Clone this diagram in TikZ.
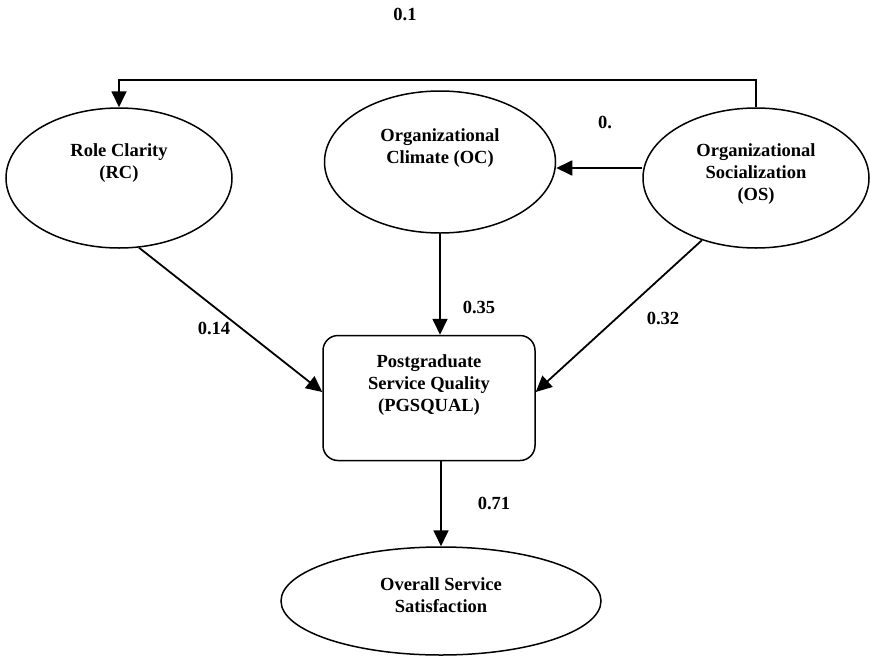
\documentclass[tikz,border=0pt]{standalone}
\usepackage{fontspec}
\setmainfont{Liberation Serif}
\usetikzlibrary{positioning,shapes.geometric,arrows.meta}
\tikzstyle{pathModel} = [x = 1pt, y = -1pt]
\tikzstyle{latentStyle} = [draw, ellipse, line width=1.5pt, inner sep=0pt]
\tikzstyle{constructStyle} = [draw, rectangle, rounded corners = 15pt, line width=1.5pt, inner sep=0pt]
\tikzstyle{nodeText} = [align=center, font=\fontsize{18.5}{22}\selectfont\bfseries]
\tikzstyle{coefText} = [font=\fontsize{18.5}{22}\selectfont\bfseries]
\tikzstyle{pathArrow} = [line width=1.8pt, -{Triangle[length=16pt, width=15pt]}]
\begin{document}
\begin{tikzpicture}[pathModel]
    \useasboundingbox (0,0) rectangle (870,656);
    % latent variables
    \node [latentStyle, minimum width=226pt, minimum height=140pt] (rc) at (119,178) {};
    \node [latentStyle, minimum width=231pt, minimum height=142pt] (oc) at (440,162) {};
    \node [latentStyle, minimum width=226pt, minimum height=140pt] (os) at (756,178) {};
    \node [constructStyle, minimum width=212pt, minimum height=125pt] (pgs) at (429,398) {};
    \node [latentStyle, minimum width=320pt, minimum height=108pt] (oss) at (441,601) {};
    % texts
    \node [nodeText] (rcText) at (119,163) {Role Clarity\\(RC)};
    \node [nodeText] (ocText) at (440,148) {Organizational\\Climate (OC)};
    \node [nodeText] (osText) at (756,174) {Organizational\\Socialization\\(OS)};
    \node [nodeText] (pgsText) at (429,385) {Postgraduate\\Service Quality\\(PGSQUAL)};
    \node [nodeText] (ossText) at (441,595) {Overall Service\\Satisfaction};
    % paths
    \coordinate (topLine) at (0,80);
    \draw [pathArrow] (os.north) -- (os.north |- topLine) -| (rc.north);
    \draw [pathArrow] ([yshift=10pt]os.west) -- ([yshift=10pt]os.west -| oc.east);
    \draw [pathArrow] (rc.-74) -- ([yshift=6pt]pgs.west);
    \draw [pathArrow] (oc.south) -- (oc.south |- pgs.north);
    \draw [pathArrow] (os.-131) -- ([yshift=6pt]pgs.east);
    \draw [pathArrow] (pgs.south -| oss.north) -- (oss.north);
    % coefficients
    \node [coefText] (c1) at (405,14) {0.1};
    \node [coefText] (c2) at (605,122) {0.};
    \node [coefText] (c3) at (214,328) {0.14};
    \node [coefText] (c4) at (479,307) {0.35};
    \node [coefText] (c5) at (663,318) {0.32};
    \node [coefText] (c6) at (494,503) {0.71};
\end{tikzpicture}
\end{document}
